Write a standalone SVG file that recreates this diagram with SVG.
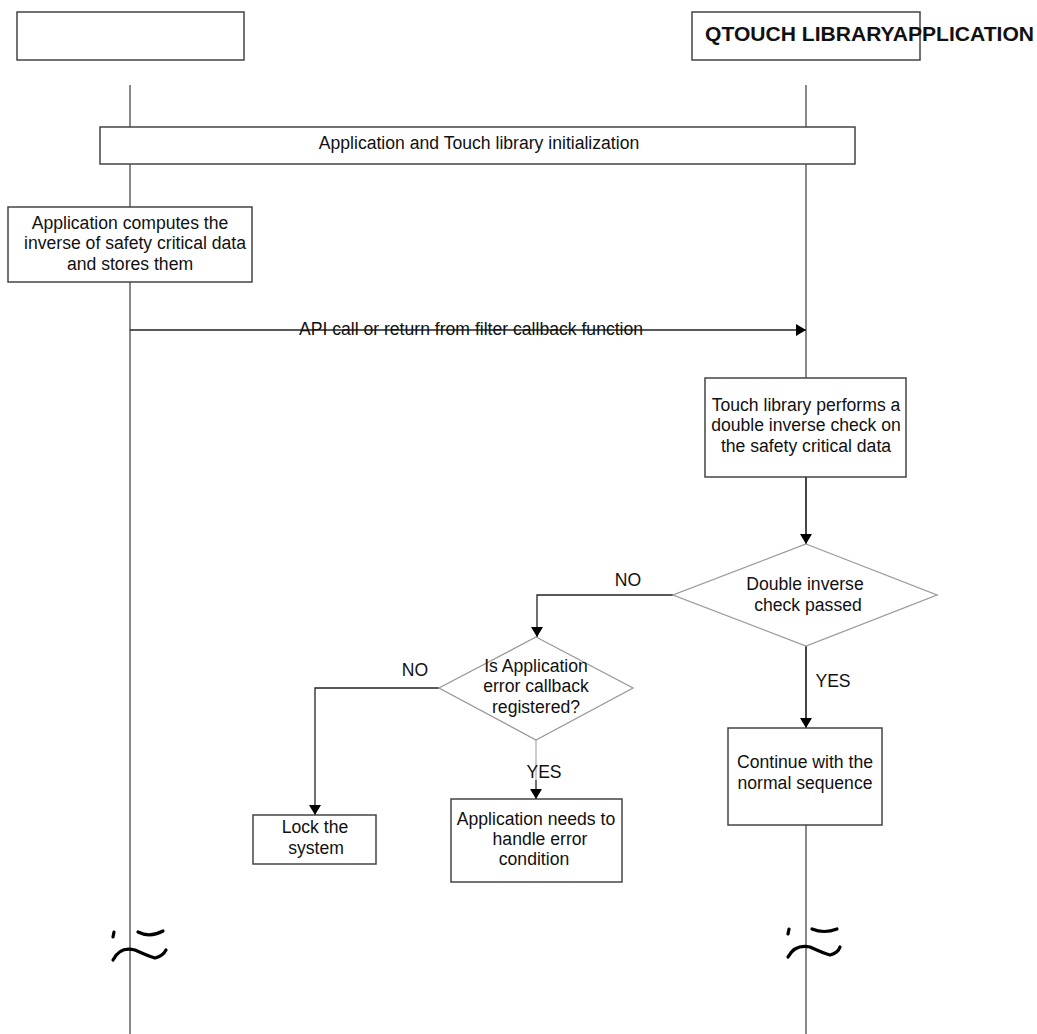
<svg xmlns="http://www.w3.org/2000/svg" width="1037" height="1034" viewBox="0 0 1037 1034">
<defs>
<marker id="ah" markerWidth="10" markerHeight="12" refX="10" refY="6" orient="auto" markerUnits="userSpaceOnUse">
<path d="M0,0 L10,6 L0,12 z" fill="#000"/>
</marker>
<style>
.box{fill:#fff;stroke:#444;stroke-width:1.5}
.dia{fill:#fff;stroke:#999;stroke-width:1.3}
.life{stroke:#888;stroke-width:2;fill:none}
.con{stroke:#222;stroke-width:1.3;fill:none}
.t{font-family:"Liberation Sans",Arial,sans-serif;font-size:17.6px;fill:#111;text-anchor:middle}
.brk{stroke:#000;stroke-width:3.2;fill:none;stroke-linecap:round}
</style>
</defs>
<rect width="1037" height="1034" fill="#fff"/>
<g id="lifelines">
<line class="life" x1="130" y1="85" x2="130" y2="1034"/>
<line class="life" x1="806" y1="85" x2="806" y2="1034"/>
</g>
<g id="lane-left"><rect class="box" x="17" y="12" width="227" height="48"/></g>
<g id="lane-right"><rect class="box" x="692" y="12" width="228" height="48"/>
<text x="705" y="41" font-family="Liberation Sans,Arial,sans-serif" font-size="19.5" font-weight="bold" fill="#111" textLength="329" lengthAdjust="spacingAndGlyphs">QTOUCH LIBRARYAPPLICATION</text></g>
<g id="init"><rect class="box" x="100" y="127" width="755" height="37"/>
<text class="t" x="479" y="149">Application and Touch library initialization</text></g>
<g id="compute"><rect class="box" x="8" y="207" width="244" height="75"/>
<text class="t" x="130" y="229">Application computes the</text>
<text class="t" x="135" y="249">inverse of safety critical data</text>
<text class="t" x="130" y="270">and stores them</text></g>
<g id="connectors">
<line class="con" x1="130" y1="330" x2="806" y2="330" marker-end="url(#ah)"/>
<line class="con" x1="806" y1="477" x2="806" y2="544" marker-end="url(#ah)"/>
<polyline class="con" points="673,595 537,595 537,637" marker-end="url(#ah)"/>
<polyline class="con" points="439,688 315,688 315,815" marker-end="url(#ah)"/>
<line x1="536" y1="740" x2="536" y2="780" stroke="#bbb" stroke-width="1.5"/>
<line class="con" x1="536" y1="780" x2="536" y2="799" marker-end="url(#ah)"/>
<line class="con" x1="806" y1="646" x2="806" y2="728" marker-end="url(#ah)"/>
</g>
<g id="api-label"><text class="t" x="471" y="335">API call or return from filter callback function</text></g>
<g id="check"><rect class="box" x="705" y="378" width="201" height="99"/>
<text class="t" x="806" y="411">Touch library performs a</text>
<text class="t" x="806" y="431">double inverse check on</text>
<text class="t" x="806" y="452">the safety critical data</text></g>
<g id="decision1"><polygon class="dia" points="806,544 937,595 806,646 673,595"/>
<text class="t" x="805" y="590">Double inverse</text>
<text class="t" x="808" y="611">check passed</text>
<text class="t" x="628" y="586">NO</text>
<text class="t" x="833" y="687">YES</text></g>
<g id="decision2"><polygon class="dia" points="536,637 633,688 536,740 439,688"/>
<text class="t" x="536" y="672">Is Application</text>
<text class="t" x="536" y="692">error callback</text>
<text class="t" x="536" y="713">registered?</text>
<text class="t" x="415" y="676">NO</text>
<text class="t" x="544" y="778">YES</text></g>
<g id="lock"><rect class="box" x="253" y="815" width="123" height="49"/>
<text class="t" x="315" y="833">Lock the</text>
<text class="t" x="316" y="854">system</text></g>
<g id="handle"><rect class="box" x="451" y="799" width="171" height="83"/>
<text class="t" x="536" y="825">Application needs to</text>
<text class="t" x="540" y="845">handle error</text>
<text class="t" x="534" y="865">condition</text></g>
<g id="continue"><rect class="box" x="728" y="728" width="154" height="97"/>
<text class="t" x="805" y="768">Continue with the</text>
<text class="t" x="805" y="789">normal sequence</text></g>
<g id="breaks">
<path class="brk" d="M114,932 L113,937"/>
<path class="brk" d="M138,932 Q150,938 163,931"/>
<path class="brk" d="M113,960 Q120,946 135,950 Q148,956 155,958 Q163,956 166,950"/>
<path class="brk" d="M789,929 L788,934"/>
<path class="brk" d="M812,929 Q824,934 837,929"/>
<path class="brk" d="M788,957 Q795,944 810,947 Q823,953 830,955 Q838,953 840,947"/>
</g>
</svg>
